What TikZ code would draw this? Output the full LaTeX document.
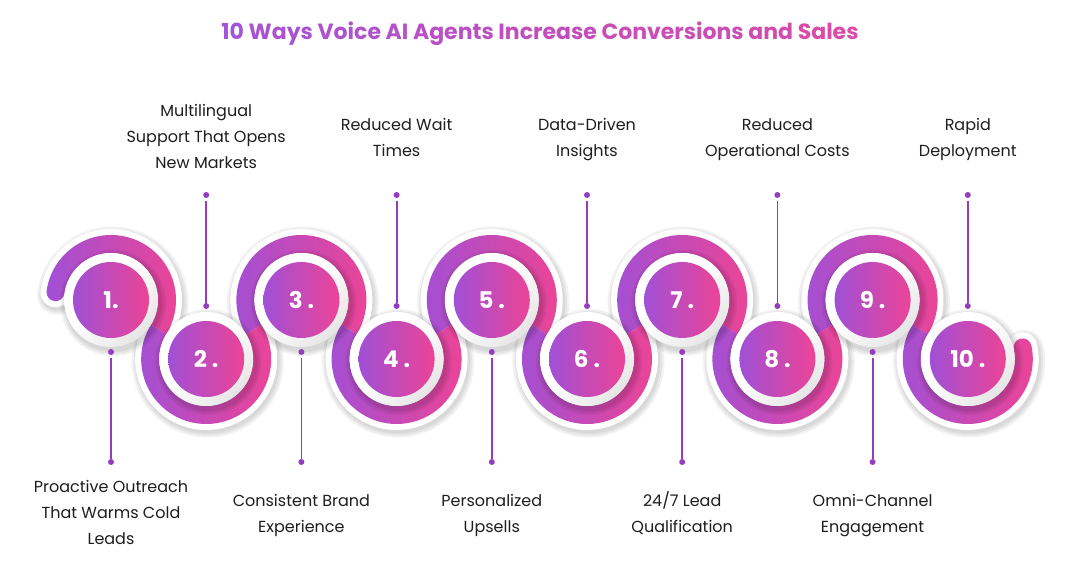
\documentclass[tikz,border=0pt]{standalone}
\usepackage{fontspec}
\setmainfont{Poppins}
\usetikzlibrary{calc}
\definecolor{purp}{RGB}{160,80,214}
\definecolor{pnk}{RGB}{236,68,150}
\definecolor{linec}{RGB}{150,60,190}
\definecolor{txt}{RGB}{30,30,30}
\definecolor{tpurp}{RGB}{163,84,216}
\definecolor{tpink}{RGB}{218,74,168}
\pgfdeclareverticalshading{ringsh}{100bp}{color(0bp)=(black!24); color(30bp)=(black!8); color(55bp)=(white); color(100bp)=(white)}
\newcommand\ttw[2]{\textcolor{tpink!#1!tpurp}{#2}}
\def\bandpath{(p1) ++(172:56) arc[start angle=172,end angle=-31.8,radius=56] arc[start angle=148.2,end angle=391.8,radius=56] arc[start angle=211.8,end angle=-31.8,radius=56] arc[start angle=148.2,end angle=391.8,radius=56] arc[start angle=211.8,end angle=-31.8,radius=56] arc[start angle=148.2,end angle=391.8,radius=56] arc[start angle=211.8,end angle=-31.8,radius=56] arc[start angle=148.2,end angle=391.8,radius=56] arc[start angle=211.8,end angle=-31.8,radius=56] arc[start angle=148.2,end angle=372,radius=56]}
\begin{document}
\begin{tikzpicture}[x=1pt,y=1pt,
  lbl/.style={align=center, font=\fontsize{16}{26}\selectfont, text=txt, inner sep=0pt},
  dotn/.style={circle, fill=linec, inner sep=0pt, minimum size=6pt, outer sep=0pt},
  lnk/.style={draw=linec, line width=1.8pt},
  disk/.style={circle, minimum size=76pt, inner sep=0pt, left color=purp, right color=pnk, text=white, font=\fontsize{23}{23}\selectfont\bfseries},
  segsh/.style={left color=purp, right color=pnk},
  ringshade/.style={shading=ringsh, shading angle=45},
]
\useasboundingbox (0,0) rectangle (1080,569);
\fill[white] (0,0) rectangle (1080,569);

% centres
\foreach \i in {1,...,10} {
  \pgfmathsetmacro\cx{111+95.2*(\i-1)}
  \pgfmathsetmacro\cy{mod(\i,2)==1 ? 269 : 210}
  \coordinate (p\i) at (\cx,\cy);
}

% title
\node (title) at (540,535.5) {\fontsize{22}{26}\selectfont\bfseries
  \ttw{0}{10} \ttw{10}{Ways} \ttw{22}{Voice} \ttw{32}{AI} \ttw{42}{Agents} \ttw{56}{Increase} \ttw{72}{Conversions} \ttw{88}{and} \ttw{100}{Sales}};

% band shadow and white outline
\begin{scope}[transform canvas={xshift=1.5pt,yshift=-2.5pt}]
  \draw[black, opacity=0.05, line width=40pt, line cap=round] \bandpath;
  \draw[black, opacity=0.05, line width=36pt, line cap=round] \bandpath;
  \draw[black, opacity=0.05, line width=32pt, line cap=round] \bandpath;
\end{scope}
\draw[white, line width=30pt, line cap=round] \bandpath;

% coloured band segments
\shade[shift={(p1)}, segsh] (172:47) arc[start angle=352, end angle=172, radius=9] arc[start angle=172, end angle=-31.8, radius=65] -- (-31.8:47) arc[start angle=-31.8, end angle=172, radius=47] -- cycle;
\foreach \i in {3,5,7,9} {
  \shade[shift={(p\i)}, segsh] (211.8:65) arc[start angle=211.8, end angle=-31.8, radius=65] -- (-31.8:47) arc[start angle=-31.8, end angle=211.8, radius=47] -- cycle;
}
\foreach \i in {2,4,6,8} {
  \shade[shift={(p\i)}, segsh] (148.2:65) arc[start angle=148.2, end angle=391.8, radius=65] -- (391.8:47) arc[start angle=391.8, end angle=148.2, radius=47] -- cycle;
}
\shade[shift={(p10)}, segsh] (148.2:65) arc[start angle=148.2, end angle=372, radius=65] arc[start angle=12, end angle=192, radius=9] arc[start angle=372, end angle=148.2, radius=47] -- cycle;

% disks
\foreach \i in {1,...,10} {
  \fill[shift={(p\i)}, black, opacity=0.05] (2,-3) circle[radius=53];
  \fill[shift={(p\i)}, black, opacity=0.05] (2,-3) circle[radius=51];
  \fill[shift={(p\i)}, black, opacity=0.06] (2,-3) circle[radius=49];
  \shade[shift={(p\i)}, ringshade] (0,0) circle[radius=47];
}
\foreach \i/\t in {1/1., 2/2 ., 3/3 ., 4/4 ., 5/5 ., 6/6 ., 7/7 ., 8/8 ., 9/9 ., 10/10 .} {
  \node[disk] (c\i) at (p\i) {\t};
}

% connectors and labels
\foreach \i in {2,4,6,8,10} {
  \node[dotn] (t\i) at ($(p\i)+(0,164)$) {};
  \node[dotn] (b\i) at ($(p\i)+(0,53)$) {};
  \draw[lnk, shorten <=3pt] (t\i) -- (b\i);
}
\foreach \i in {1,3,5,7,9} {
  \node[dotn] (t\i) at ($(p\i)+(0,-52)$) {};
  \node[dotn] (b\i) at ($(p\i)+(0,-162)$) {};
  \draw[lnk, shorten <=3pt] (t\i) -- (b\i);
}

\node[lbl] (l1) at ($(p1|-0,56)$) {\strut Proactive Outreach\\\strut That Warms Cold\\\strut Leads};
\node[lbl] (l2) at ($(p2|-0,432)$) {\strut Multilingual\\\strut Support That Opens\\\strut New Markets};
\node[lbl] (l3) at ($(p3|-0,55)$) {\strut Consistent Brand\\\strut Experience};
\node[lbl] (l4) at ($(p4|-0,431)$) {\strut Reduced Wait\\\strut Times};
\node[lbl] (l5) at ($(p5|-0,55)$) {\strut Personalized\\\strut Upsells};
\node[lbl] (l6) at ($(p6|-0,431)$) {\strut Data-Driven\\\strut Insights};
\node[lbl] (l7) at ($(p7|-0,55)$) {\strut 24/7 Lead\\\strut Qualification};
\node[lbl] (l8) at ($(p8|-0,431)$) {\strut Reduced\\\strut Operational Costs};
\node[lbl] (l9) at ($(p9|-0,55)$) {\strut Omni-Channel\\\strut Engagement};
\node[lbl] (l10) at ($(p10|-0,431)$) {\strut Rapid\\\strut Deployment};
\end{tikzpicture}
\end{document}
